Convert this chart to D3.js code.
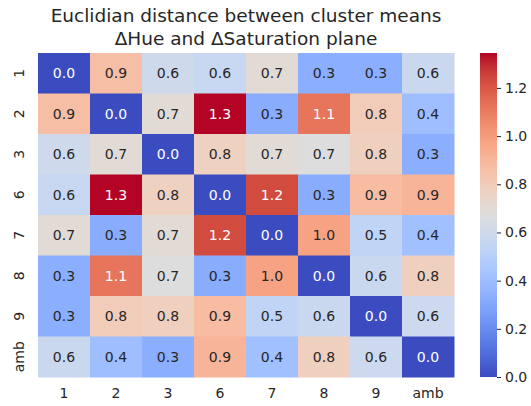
<!DOCTYPE html>
<html lang="en">
<head>
    <meta charset="utf-8">
    <title>Euclidian distance heatmap</title>
    <script type="text/javascript" src="https://cdn.jsdelivr.net/npm/d3@7"></script>
    <style type="text/css">
        body { margin: 0; background: #fff; }
        text { font-family: "DejaVu Sans", sans-serif; fill: #262626; }
    </style>
</head>
<body>
    <script type="text/javascript">

        //Cluster labels (rows and columns)
        var clusters = ["1", "2", "3", "6", "7", "8", "9", "amb"];

        //Distance values, one row per cluster
        var row1 = [0.00, 0.87, 0.60, 0.57, 0.70, 0.33, 0.33, 0.58];
        var row2 = [0.87, 0.00, 0.70, 1.345, 0.32, 1.12, 0.80, 0.40];
        var row3 = [0.60, 0.70, 0.00, 0.77, 0.70, 0.67, 0.78, 0.33];
        var row6 = [0.57, 1.345, 0.77, 0.00, 1.23, 0.32, 0.88, 0.91];
        var row7 = [0.70, 0.32, 0.70, 1.23, 0.00, 0.98, 0.54, 0.41];
        var row8 = [0.33, 1.12, 0.67, 0.32, 0.98, 0.00, 0.58, 0.78];
        var row9 = [0.33, 0.80, 0.78, 0.88, 0.54, 0.58, 0.00, 0.59];
        var rowAmb = [0.58, 0.40, 0.33, 0.91, 0.41, 0.78, 0.59, 0.00];
        var rows = [row1, row2, row3, row6, row7, row8, row9, rowAmb];

        //Colorbar tick values
        var cbarTicks = [0.0, 0.2, 0.4, 0.6, 0.8, 1.0, 1.2];

        //Width and height
        var w = 531;
        var h = 406;
        var margin = { left: 38, top: 53, right: 77, bottom: 29 };

        //coolwarm colormap (Moreland)
        var coolwarm = d3.piecewise(d3.interpolateRgb, [
            "rgb(59,76,192)", "rgb(68,90,204)", "rgb(77,104,215)", "rgb(87,117,225)",
            "rgb(98,130,234)", "rgb(108,142,241)", "rgb(119,154,247)", "rgb(130,165,251)",
            "rgb(141,176,254)", "rgb(152,185,255)", "rgb(163,194,255)", "rgb(174,201,253)",
            "rgb(184,208,249)", "rgb(194,213,244)", "rgb(204,217,238)", "rgb(213,219,230)",
            "rgb(221,221,221)", "rgb(229,216,209)", "rgb(236,211,197)", "rgb(241,204,185)",
            "rgb(245,196,173)", "rgb(247,187,160)", "rgb(247,177,148)", "rgb(247,166,135)",
            "rgb(244,154,123)", "rgb(241,141,111)", "rgb(236,127,99)", "rgb(229,112,88)",
            "rgb(222,96,77)", "rgb(213,80,66)", "rgb(203,62,56)", "rgb(192,40,47)",
            "rgb(180,4,38)"
        ]);

        var vmax = d3.max(rows, function (r) { return d3.max(r); });

        var color = d3.scaleSequential(coolwarm).domain([0, vmax]);

        //Scales
        var x = d3.scaleBand()
            .domain(clusters)
            .range([margin.left, w - margin.right]);

        var y = d3.scaleBand()
            .domain(clusters)
            .range([margin.top, h - margin.bottom]);

        //Create SVG element
        var svg = d3.select("body")
            .append("svg")
            .attr("width", w)
            .attr("height", h);

        //Flatten into cells
        var cells = [];
        rows.forEach(function (r, i) {
            r.forEach(function (v, j) {
                cells.push({ row: clusters[i], col: clusters[j], value: v });
            });
        });

        //Relative luminance, same rule seaborn uses for annotation colour
        function luminance(c) {
            var rgb = d3.rgb(c);
            var ch = [rgb.r, rgb.g, rgb.b].map(function (v) {
                v = v / 255;
                return v <= 0.03928 ? v / 12.92 : Math.pow((v + 0.055) / 1.055, 2.4);
            });
            return 0.2126 * ch[0] + 0.7152 * ch[1] + 0.0722 * ch[2];
        }

        svg.selectAll("rect.cell")
            .data(cells)
            .enter()
            .append("rect")
            .attr("class", "cell")
            .attr("x", function (d) { return x(d.col); })
            .attr("y", function (d) { return y(d.row); })
            .attr("width", x.bandwidth() + 0.5)
            .attr("height", y.bandwidth() + 0.5)
            .style("fill", function (d) { return color(d.value); });

        svg.selectAll("text.annot")
            .data(cells)
            .enter()
            .append("text")
            .attr("class", "annot")
            .attr("x", function (d) { return x(d.col) + x.bandwidth() / 2; })
            .attr("y", function (d) { return y(d.row) + y.bandwidth() / 2; })
            .attr("text-anchor", "middle")
            .attr("dominant-baseline", "central")
            .style("font-size", "14px")
            .style("fill", function (d) {
                return luminance(color(d.value)) > 0.408 ? "#262626" : "#ffffff";
            })
            .text(function (d) { return d.value.toFixed(1); });

        //Axes
        var xAxis = svg.append("g")
            .attr("transform", "translate(0," + (h - margin.bottom) + ")")
            .call(d3.axisBottom(x).tickSize(0).tickPadding(11));
        xAxis.select(".domain").remove();

        var yAxis = svg.append("g")
            .attr("transform", "translate(" + margin.left + ",0)")
            .call(d3.axisLeft(y).tickSize(0).tickPadding(0));
        yAxis.select(".domain").remove();
        yAxis.selectAll("text")
            .attr("x", 0)
            .attr("y", 0)
            .attr("dy", null)
            .attr("text-anchor", "middle")
            .attr("dominant-baseline", "central")
            .attr("transform", "translate(-19,0) rotate(-90)");

        //Colorbar
        var cbX = 480, cbW = 17;
        var cbScale = d3.scaleLinear()
            .domain([0, vmax])
            .range([h - margin.bottom, margin.top]);

        var grad = svg.append("defs")
            .append("linearGradient")
            .attr("id", "cbgrad")
            .attr("x1", "0").attr("y1", "1").attr("x2", "0").attr("y2", "0");
        d3.range(0, 1.0001, 0.02).forEach(function (t) {
            grad.append("stop")
                .attr("offset", t)
                .attr("stop-color", coolwarm(t));
        });

        svg.append("rect")
            .attr("x", cbX)
            .attr("y", margin.top)
            .attr("width", cbW)
            .attr("height", h - margin.bottom - margin.top)
            .style("fill", "url(#cbgrad)");

        var cbAxis = svg.append("g")
            .attr("transform", "translate(" + (cbX + cbW) + ",0)")
            .call(d3.axisRight(cbScale)
                .tickValues(cbarTicks)
                .tickFormat(d3.format(".1f"))
                .tickSize(4)
                .tickPadding(4));
        cbAxis.select(".domain").remove();
        cbAxis.selectAll("line").style("stroke", "#262626").style("stroke-width", 1);

        svg.selectAll(".tick text")
            .style("font-size", "14px")
            .style("fill", "#262626")
            .style("font-family", "DejaVu Sans, sans-serif");

        //Title
        var title = svg.append("text")
            .attr("x", (margin.left + w - margin.right) / 2)
            .attr("text-anchor", "middle")
            .style("font-size", "18.5px");
        title.append("tspan")
            .attr("x", (margin.left + w - margin.right) / 2)
            .attr("y", 22)
            .text("Euclidian distance between cluster means");
        title.append("tspan")
            .attr("x", (margin.left + w - margin.right) / 2)
            .attr("y", 45)
            .text("ΔHue and ΔSaturation plane");

    </script>
</body>
</html>
